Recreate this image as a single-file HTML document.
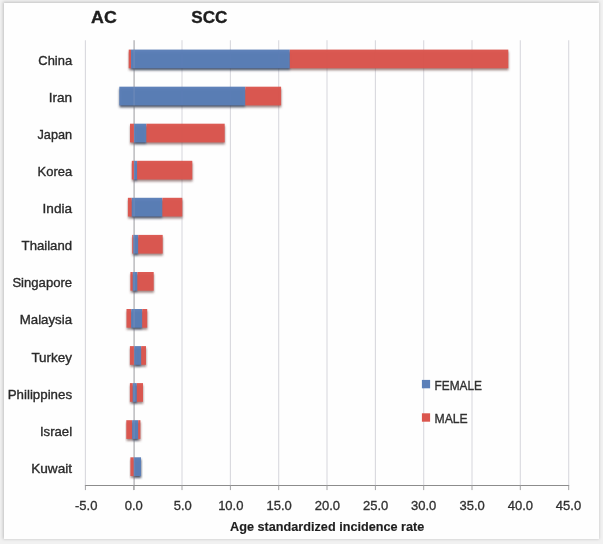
<!DOCTYPE html>
<html lang="en">
<head>
<meta charset="utf-8">
<title>Age standardized incidence rate - AC and SCC</title>
<style>
html,body{margin:0;padding:0;background:#f3f3f3;}
body{width:603px;height:544px;overflow:hidden;position:relative;font-family:"Liberation Sans",sans-serif;}
#frame{position:absolute;left:0;top:0;width:603px;height:544px;background:#f1f1f1;}
#panel{position:absolute;left:4px;top:3px;width:595px;height:536px;background:#fefefe;box-shadow:-0.5px -0.5px 3px 0.5px rgba(0,0,0,0.2);}
svg{position:absolute;left:0;top:0;filter:blur(0.55px);}
text{font-family:"Liberation Sans",sans-serif;}
.cat{font-size:13.6px;fill:#2a2a2a;stroke:#2a2a2a;stroke-width:0.36px;}
.tick{font-size:13px;fill:#303030;stroke:#303030;stroke-width:0.32px;text-anchor:middle;}
.ttl{font-size:17px;font-weight:bold;fill:#1e1e1e;stroke:#1e1e1e;stroke-width:0.35px;}
.axt{font-size:12.6px;font-weight:bold;fill:#1e1e1e;stroke:#1e1e1e;stroke-width:0.15px;}
.leg{font-size:12.2px;fill:#303030;stroke:#303030;stroke-width:0.32px;}
</style>
</head>
<body>
<div id="frame"></div>
<div id="panel"></div>
<svg width="603" height="544" viewBox="0 0 603 544">
<defs>
<filter id="sh" x="-10%" y="-30%" width="120%" height="160%"><feGaussianBlur stdDeviation="0.8"/></filter>
</defs>

<g stroke="#d9d9de" stroke-width="1.1">
<line x1="85.4" y1="40.3" x2="85.4" y2="485.5"/>
<line x1="182.0" y1="40.3" x2="182.0" y2="485.5"/>
<line x1="230.4" y1="40.3" x2="230.4" y2="485.5"/>
<line x1="278.7" y1="40.3" x2="278.7" y2="485.5"/>
<line x1="327.0" y1="40.3" x2="327.0" y2="485.5"/>
<line x1="375.4" y1="40.3" x2="375.4" y2="485.5"/>
<line x1="423.7" y1="40.3" x2="423.7" y2="485.5"/>
<line x1="472.0" y1="40.3" x2="472.0" y2="485.5"/>
<line x1="520.3" y1="40.3" x2="520.3" y2="485.5"/>
<line x1="568.7" y1="40.3" x2="568.7" y2="485.5"/>
</g>
<line x1="134.1" y1="40.3" x2="134.1" y2="489.9" stroke="#a6a6a9" stroke-width="1.15"/>
<g filter="url(#sh)">
<rect x="128.9" y="51.6" width="2.3" height="18.7" fill="#6e4846" opacity="0.65"/>
<rect x="131.2" y="51.6" width="158.8" height="18.7" fill="#3a4358" opacity="0.9"/>
<rect x="290.0" y="51.6" width="218.5" height="18.7" fill="#6e4846" opacity="0.65"/>
</g>
<rect x="128.7" y="49.6" width="2.3" height="18.7" fill="#db564e" opacity="0.97"/>
<rect x="131.0" y="49.6" width="158.8" height="18.7" fill="#5b7fb8" opacity="0.97"/>
<rect x="289.8" y="49.6" width="218.5" height="18.7" fill="#db564e" opacity="0.97"/>
<g filter="url(#sh)">
<rect x="119.5" y="88.7" width="126.0" height="18.7" fill="#3a4358" opacity="0.9"/>
<rect x="245.5" y="88.7" width="35.8" height="18.7" fill="#6e4846" opacity="0.65"/>
</g>
<rect x="119.3" y="86.7" width="126.0" height="18.7" fill="#5b7fb8" opacity="0.97"/>
<rect x="245.3" y="86.7" width="35.8" height="18.7" fill="#db564e" opacity="0.97"/>
<g filter="url(#sh)">
<rect x="130.2" y="125.7" width="4.0" height="18.7" fill="#6e4846" opacity="0.65"/>
<rect x="134.2" y="125.7" width="12.4" height="18.7" fill="#3a4358" opacity="0.9"/>
<rect x="146.6" y="125.7" width="78.3" height="18.7" fill="#6e4846" opacity="0.65"/>
</g>
<rect x="130.0" y="123.7" width="4.0" height="18.7" fill="#db564e" opacity="0.97"/>
<rect x="134.0" y="123.7" width="12.4" height="18.7" fill="#5b7fb8" opacity="0.97"/>
<rect x="146.4" y="123.7" width="78.3" height="18.7" fill="#db564e" opacity="0.97"/>
<g filter="url(#sh)">
<rect x="132.0" y="162.8" width="2.2" height="18.7" fill="#6e4846" opacity="0.65"/>
<rect x="134.2" y="162.8" width="3.1" height="18.7" fill="#3a4358" opacity="0.9"/>
<rect x="137.3" y="162.8" width="55.2" height="18.7" fill="#6e4846" opacity="0.65"/>
</g>
<rect x="131.8" y="160.8" width="2.2" height="18.7" fill="#db564e" opacity="0.97"/>
<rect x="134.0" y="160.8" width="3.1" height="18.7" fill="#5b7fb8" opacity="0.97"/>
<rect x="137.1" y="160.8" width="55.2" height="18.7" fill="#db564e" opacity="0.97"/>
<g filter="url(#sh)">
<rect x="128.1" y="199.8" width="3.9" height="18.7" fill="#6e4846" opacity="0.65"/>
<rect x="132.0" y="199.8" width="30.6" height="18.7" fill="#3a4358" opacity="0.9"/>
<rect x="162.6" y="199.8" width="19.9" height="18.7" fill="#6e4846" opacity="0.65"/>
</g>
<rect x="127.9" y="197.8" width="3.9" height="18.7" fill="#db564e" opacity="0.97"/>
<rect x="131.8" y="197.8" width="30.6" height="18.7" fill="#5b7fb8" opacity="0.97"/>
<rect x="162.4" y="197.8" width="19.9" height="18.7" fill="#db564e" opacity="0.97"/>
<g filter="url(#sh)">
<rect x="132.4" y="236.9" width="1.2" height="18.7" fill="#6e4846" opacity="0.65"/>
<rect x="133.6" y="236.9" width="4.8" height="18.7" fill="#3a4358" opacity="0.9"/>
<rect x="138.4" y="236.9" width="24.5" height="18.7" fill="#6e4846" opacity="0.65"/>
</g>
<rect x="132.2" y="234.9" width="1.2" height="18.7" fill="#db564e" opacity="0.97"/>
<rect x="133.4" y="234.9" width="4.8" height="18.7" fill="#5b7fb8" opacity="0.97"/>
<rect x="138.2" y="234.9" width="24.5" height="18.7" fill="#db564e" opacity="0.97"/>
<g filter="url(#sh)">
<rect x="130.6" y="274.0" width="2.4" height="18.7" fill="#6e4846" opacity="0.65"/>
<rect x="133.0" y="274.0" width="4.6" height="18.7" fill="#3a4358" opacity="0.9"/>
<rect x="137.6" y="274.0" width="16.3" height="18.7" fill="#6e4846" opacity="0.65"/>
</g>
<rect x="130.4" y="272.0" width="2.4" height="18.7" fill="#db564e" opacity="0.97"/>
<rect x="132.8" y="272.0" width="4.6" height="18.7" fill="#5b7fb8" opacity="0.97"/>
<rect x="137.4" y="272.0" width="16.3" height="18.7" fill="#db564e" opacity="0.97"/>
<g filter="url(#sh)">
<rect x="126.7" y="311.0" width="4.7" height="18.7" fill="#6e4846" opacity="0.65"/>
<rect x="131.4" y="311.0" width="11.0" height="18.7" fill="#3a4358" opacity="0.9"/>
<rect x="142.4" y="311.0" width="5.0" height="18.7" fill="#6e4846" opacity="0.65"/>
</g>
<rect x="126.5" y="309.0" width="4.7" height="18.7" fill="#db564e" opacity="0.97"/>
<rect x="131.2" y="309.0" width="11.0" height="18.7" fill="#5b7fb8" opacity="0.97"/>
<rect x="142.2" y="309.0" width="5.0" height="18.7" fill="#db564e" opacity="0.97"/>
<g filter="url(#sh)">
<rect x="130.1" y="348.1" width="4.3" height="18.7" fill="#6e4846" opacity="0.65"/>
<rect x="134.4" y="348.1" width="7.0" height="18.7" fill="#3a4358" opacity="0.9"/>
<rect x="141.4" y="348.1" width="4.8" height="18.7" fill="#6e4846" opacity="0.65"/>
</g>
<rect x="129.9" y="346.1" width="4.3" height="18.7" fill="#db564e" opacity="0.97"/>
<rect x="134.2" y="346.1" width="7.0" height="18.7" fill="#5b7fb8" opacity="0.97"/>
<rect x="141.2" y="346.1" width="4.8" height="18.7" fill="#db564e" opacity="0.97"/>
<g filter="url(#sh)">
<rect x="130.1" y="385.1" width="2.9" height="18.7" fill="#6e4846" opacity="0.65"/>
<rect x="133.0" y="385.1" width="4.0" height="18.7" fill="#3a4358" opacity="0.9"/>
<rect x="137.0" y="385.1" width="6.2" height="18.7" fill="#6e4846" opacity="0.65"/>
</g>
<rect x="129.9" y="383.1" width="2.9" height="18.7" fill="#db564e" opacity="0.97"/>
<rect x="132.8" y="383.1" width="4.0" height="18.7" fill="#5b7fb8" opacity="0.97"/>
<rect x="136.8" y="383.1" width="6.2" height="18.7" fill="#db564e" opacity="0.97"/>
<g filter="url(#sh)">
<rect x="126.5" y="422.2" width="5.9" height="18.7" fill="#6e4846" opacity="0.65"/>
<rect x="132.4" y="422.2" width="6.0" height="18.7" fill="#3a4358" opacity="0.9"/>
<rect x="138.4" y="422.2" width="2.2" height="18.7" fill="#6e4846" opacity="0.65"/>
</g>
<rect x="126.3" y="420.2" width="5.9" height="18.7" fill="#db564e" opacity="0.97"/>
<rect x="132.2" y="420.2" width="6.0" height="18.7" fill="#5b7fb8" opacity="0.97"/>
<rect x="138.2" y="420.2" width="2.2" height="18.7" fill="#db564e" opacity="0.97"/>
<g filter="url(#sh)">
<rect x="130.6" y="459.3" width="3.4" height="18.7" fill="#6e4846" opacity="0.65"/>
<rect x="134.0" y="459.3" width="7.2" height="18.7" fill="#3a4358" opacity="0.9"/>
</g>
<rect x="130.4" y="457.3" width="3.4" height="18.7" fill="#db564e" opacity="0.97"/>
<rect x="133.8" y="457.3" width="7.2" height="18.7" fill="#5b7fb8" opacity="0.97"/>
<line x1="134.1" y1="40.3" x2="134.1" y2="485.5" stroke="#c8c8cc" stroke-width="1.2" opacity="0.16"/>
<line x1="84.9" y1="485.5" x2="569.2" y2="485.5" stroke="#8c8c8c" stroke-width="1"/>
<g stroke="#a4a4a6" stroke-width="1">
<line x1="85.4" y1="485.5" x2="85.4" y2="490.1"/>
<line x1="133.7" y1="485.5" x2="133.7" y2="490.1"/>
<line x1="182.0" y1="485.5" x2="182.0" y2="490.1"/>
<line x1="230.4" y1="485.5" x2="230.4" y2="490.1"/>
<line x1="278.7" y1="485.5" x2="278.7" y2="490.1"/>
<line x1="327.0" y1="485.5" x2="327.0" y2="490.1"/>
<line x1="375.4" y1="485.5" x2="375.4" y2="490.1"/>
<line x1="423.7" y1="485.5" x2="423.7" y2="490.1"/>
<line x1="472.0" y1="485.5" x2="472.0" y2="490.1"/>
<line x1="520.3" y1="485.5" x2="520.3" y2="490.1"/>
<line x1="568.7" y1="485.5" x2="568.7" y2="490.1"/>
</g>
<text class="tick" x="86.2" y="509.7">-5.0</text>
<text class="tick" x="133.8" y="509.7">0.0</text>
<text class="tick" x="182.7" y="509.7">5.0</text>
<text class="tick" x="230.8" y="509.7">10.0</text>
<text class="tick" x="279.1" y="509.7">15.0</text>
<text class="tick" x="327.4" y="509.7">20.0</text>
<text class="tick" x="375.6" y="509.7">25.0</text>
<text class="tick" x="423.6" y="509.7">30.0</text>
<text class="tick" x="472.2" y="509.7">35.0</text>
<text class="tick" x="520.4" y="509.7">40.0</text>
<text class="tick" x="568.5" y="509.7">45.0</text>
<text class="cat" x="38.3" y="65.0" textLength="33.8" lengthAdjust="spacingAndGlyphs">China</text>
<text class="cat" x="48.7" y="102.1" textLength="23.4" lengthAdjust="spacingAndGlyphs">Iran</text>
<text class="cat" x="37.5" y="139.1" textLength="34.6" lengthAdjust="spacingAndGlyphs">Japan</text>
<text class="cat" x="37.6" y="176.2" textLength="34.5" lengthAdjust="spacingAndGlyphs">Korea</text>
<text class="cat" x="42.6" y="213.2" textLength="29.5" lengthAdjust="spacingAndGlyphs">India</text>
<text class="cat" x="21.6" y="250.3" textLength="50.5" lengthAdjust="spacingAndGlyphs">Thailand</text>
<text class="cat" x="12.4" y="287.4" textLength="59.7" lengthAdjust="spacingAndGlyphs">Singapore</text>
<text class="cat" x="19.7" y="324.4" textLength="52.4" lengthAdjust="spacingAndGlyphs">Malaysia</text>
<text class="cat" x="31.4" y="361.5" textLength="40.7" lengthAdjust="spacingAndGlyphs">Turkey</text>
<text class="cat" x="7.7" y="398.5" textLength="64.4" lengthAdjust="spacingAndGlyphs">Philippines</text>
<text class="cat" x="39.9" y="435.6" textLength="32.2" lengthAdjust="spacingAndGlyphs">Israel</text>
<text class="cat" x="31.2" y="472.7" textLength="40.9" lengthAdjust="spacingAndGlyphs">Kuwait</text>
<text class="ttl" x="91.1" y="22.5" textLength="25.7" lengthAdjust="spacingAndGlyphs">AC</text>
<text class="ttl" x="191.3" y="22.5" textLength="36.1" lengthAdjust="spacingAndGlyphs">SCC</text>
<text class="axt" x="230.1" y="531.4" textLength="194.2" lengthAdjust="spacingAndGlyphs">Age standardized incidence rate</text>
<rect x="421.9" y="379.9" width="8.2" height="8.4" fill="#5b7fb8"/>
<rect x="421.9" y="413.3" width="8.2" height="8.4" fill="#db564e"/>
<text class="leg" x="434.5" y="389.6" textLength="47.4" lengthAdjust="spacingAndGlyphs">FEMALE</text>
<text class="leg" x="434.5" y="423.2" textLength="33.2" lengthAdjust="spacingAndGlyphs">MALE</text>
</svg>
</body>
</html>
